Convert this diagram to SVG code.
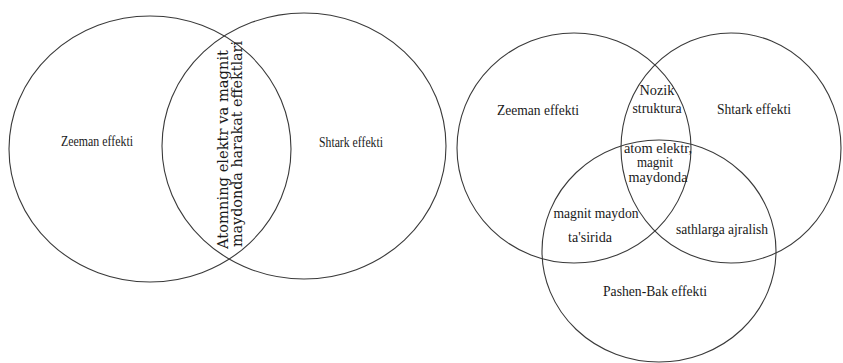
<svg xmlns="http://www.w3.org/2000/svg" width="843" height="363" viewBox="0 0 843 363">
<style>
.c{fill:none;stroke:#3a3a3a;stroke-width:1.1}
text.t{font-family:'Liberation Serif','Times New Roman',serif;fill:#1a1a1a;text-anchor:middle;font-size:15px}
text.s{font-size:14px}
text.v{font-family:'DejaVu Serif','Liberation Serif',serif;fill:#1a1a1a;font-size:14px}
</style>
<rect width="843" height="363" fill="#ffffff"/>
<g id="left-diagram">
<g id="zeeman-left"><ellipse class="c" cx="150" cy="149" rx="141" ry="133"/><text class="t" x="97" y="146" textLength="72" lengthAdjust="spacingAndGlyphs">Zeeman effekti</text></g>
<g id="shtark-left"><ellipse class="c" cx="304" cy="146" rx="142" ry="133"/><text class="t" x="351" y="147" textLength="64" lengthAdjust="spacingAndGlyphs">Shtark effekti</text></g>
<g id="overlap-left">
<text class="v" transform="translate(228,249) rotate(-90)" textLength="199" lengthAdjust="spacingAndGlyphs">Atomning elektr va magnit</text>
<text class="v" transform="translate(242,247) rotate(-90)" textLength="206" lengthAdjust="spacingAndGlyphs">maydonda harakat effektlari</text>
</g>
</g>
<g id="right-diagram">
<g id="zeeman-right"><ellipse class="c" cx="574" cy="148" rx="117" ry="115"/><text class="t" x="538" y="115" textLength="82" lengthAdjust="spacingAndGlyphs">Zeeman effekti</text></g>
<g id="shtark-right"><ellipse class="c" cx="731" cy="148" rx="110" ry="115"/><text class="t" x="754" y="114" textLength="74" lengthAdjust="spacingAndGlyphs">Shtark effekti</text></g>
<g id="pashen-right"><ellipse class="c" cx="659" cy="251" rx="117" ry="111"/><text class="t" x="655" y="296" textLength="104" lengthAdjust="spacingAndGlyphs">Pashen-Bak effekti</text></g>
<g id="nozik"><text class="t" x="657" y="95" textLength="35" lengthAdjust="spacingAndGlyphs">Nozik</text><text class="t" x="657" y="113" textLength="49" lengthAdjust="spacingAndGlyphs">struktura</text></g>
<g id="center"><text class="t s" x="658" y="153" textLength="68" lengthAdjust="spacingAndGlyphs">atom elektr,</text><text class="t s" x="655" y="167" textLength="36" lengthAdjust="spacingAndGlyphs">magnit</text><text class="t s" x="658" y="182" textLength="59" lengthAdjust="spacingAndGlyphs">maydonda</text></g>
<g id="zeeman-pashen"><text class="t" x="596" y="218" textLength="85" lengthAdjust="spacingAndGlyphs">magnit maydon</text><text class="t" x="590" y="242" textLength="44" lengthAdjust="spacingAndGlyphs">ta'sirida</text></g>
<g id="shtark-pashen"><text class="t" x="722" y="234" textLength="92" lengthAdjust="spacingAndGlyphs">sathlarga ajralish</text></g>
</g>
</svg>
